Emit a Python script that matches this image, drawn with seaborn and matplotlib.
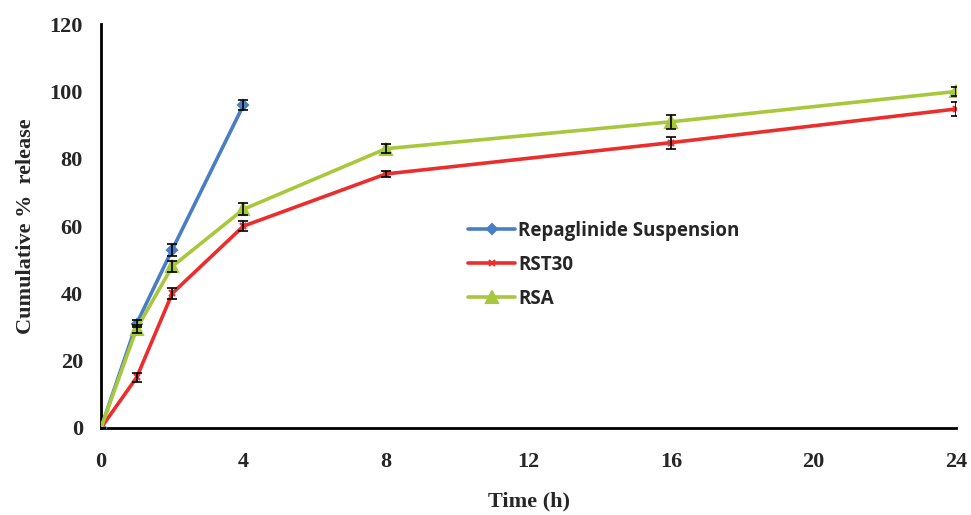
import numpy as np
import pandas as pd
import matplotlib
matplotlib.use("Agg")
import matplotlib.pyplot as plt
import seaborn as sns

# ---- data ----
time_susp = [0, 1, 2, 4]
rel_susp = [0, 31, 53, 96]
err_susp = [0, 1.0, 1.8, 1.6]

time_rst = [0, 1, 2, 4, 8, 16, 24]
rel_rst = [0, 15, 40, 60, 75.5, 84.8, 94.8]
err_rst = [0, 1.2, 1.6, 1.5, 1.0, 1.8, 2.0]

time_rsa = [0, 1, 2, 4, 8, 16, 24]
rel_rsa = [0, 29.5, 48, 65, 83, 91, 100]
err_rsa = [0, 1.2, 1.6, 1.8, 1.3, 2.0, 1.2]

series_names = ["Repaglinide Suspension", "RST30", "RSA"]
x_ticks = [0, 4, 8, 12, 16, 20, 24]
y_ticks = [0, 20, 40, 60, 80, 100, 120]

df = pd.concat([
    pd.DataFrame({"Time": time_susp, "Release": rel_susp, "Series": series_names[0]}),
    pd.DataFrame({"Time": time_rst, "Release": rel_rst, "Series": series_names[1]}),
    pd.DataFrame({"Time": time_rsa, "Release": rel_rsa, "Series": series_names[2]}),
], ignore_index=True)

colors = {series_names[0]: "#4A7EC4", series_names[1]: "#EC2D2D", series_names[2]: "#A8C83C"}
markers = {series_names[0]: "D", series_names[1]: "x", series_names[2]: "^"}
msizes = {series_names[0]: 5, series_names[1]: 5, series_names[2]: 9}

sns.set_style("white")
fig = plt.figure(figsize=(9.71, 5.15), dpi=100)
ax = fig.add_axes([0.104, 0.169, 0.8806, 0.784])

for name, t, r, e in [(series_names[0], time_susp, rel_susp, err_susp),
                      (series_names[1], time_rst, rel_rst, err_rst),
                      (series_names[2], time_rsa, rel_rsa, err_rsa)]:
    sub = df[df["Series"] == name]
    sns.lineplot(data=sub, x="Time", y="Release", ax=ax, color=colors[name],
                 marker=markers[name], markersize=msizes[name], linewidth=2.6,
                 markeredgecolor=colors[name], markeredgewidth=1.5, label=name,
                 zorder=3)
    ax.errorbar(t, r, yerr=e, fmt="none", ecolor="black", elinewidth=1.2,
                capsize=3.5, capthick=1.2, zorder=4)

ax.set_xlim(0, 24)
ax.set_ylim(0, 120)
ax.set_xticks(x_ticks)
ax.set_yticks(y_ticks)
serif = "Liberation Serif"
ax.set_xticklabels([str(v) for v in x_ticks], fontfamily=serif, fontweight="bold", fontsize=16)
ax.set_yticklabels([str(v) for v in y_ticks], fontfamily=serif, fontweight="bold", fontsize=16)
ax.set_xlabel("Time (h)", fontfamily=serif, fontweight="bold", fontsize=16, labelpad=14)
ax.set_ylabel("Cumulative %  release", fontfamily=serif, fontweight="bold", fontsize=16, labelpad=10)

for s in ["top", "right"]:
    ax.spines[s].set_visible(False)
for s in ["left", "bottom"]:
    ax.spines[s].set_color("black")
    ax.spines[s].set_linewidth(2)
ax.tick_params(axis="both", direction="out", length=7, width=1.5, color="black", pad=10)
ax.tick_params(axis="y", pad=6)
ax.grid(False)

leg = ax.legend(loc="upper left", bbox_to_anchor=(0.41, 0.555), frameon=False,
                prop={"family": "Open Sans", "weight": "bold", "size": 13.5},
                labelspacing=0.75, handlelength=2.5, handletextpad=0.15)

fig.savefig("out.png", dpi=100)
